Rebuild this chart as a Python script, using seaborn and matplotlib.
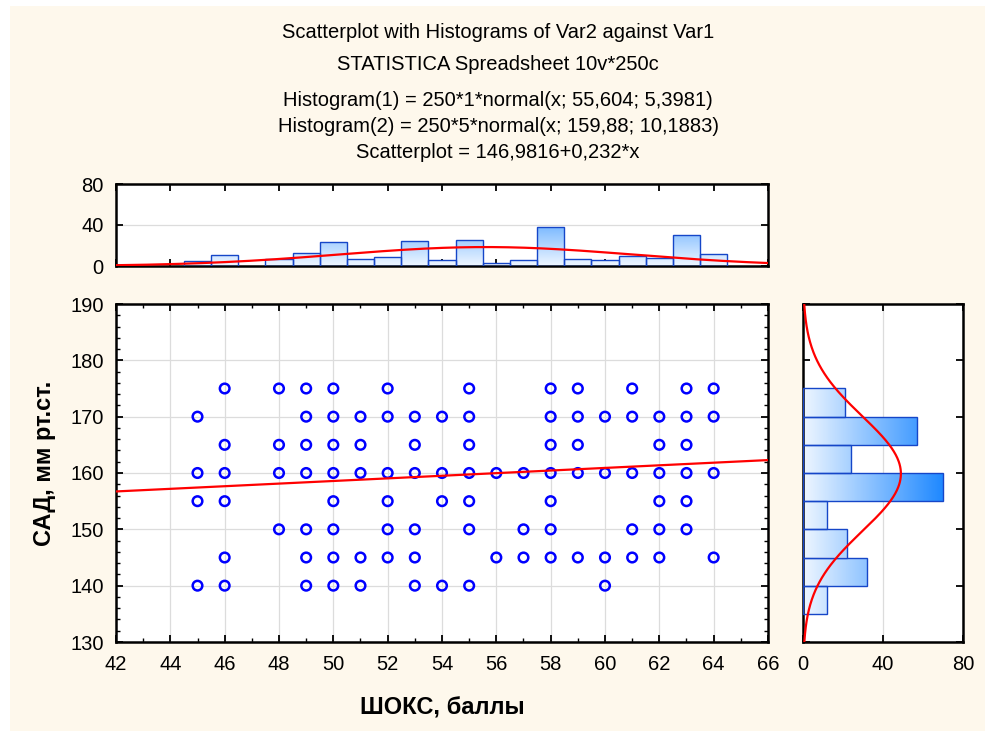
import numpy as np
import pandas as pd
import matplotlib
matplotlib.use("Agg")
import matplotlib.pyplot as plt
import seaborn as sns
from matplotlib.colors import LinearSegmentedColormap, Normalize
from matplotlib.ticker import MultipleLocator
from matplotlib.patches import Rectangle

# ---------------- data ----------------
# scatter: distinct (SHOKS, SAD) points, grouped by SHOKS value
points_by_x = {
    45: [170, 160, 155, 140],
    46: [175, 165, 160, 155, 145, 140],
    48: [175, 165, 160, 150],
    49: [175, 170, 165, 160, 150, 145, 140],
    50: [175, 170, 165, 160, 155, 150, 145, 140],
    51: [170, 165, 160, 145, 140],
    52: [175, 170, 160, 155, 150, 145],
    53: [170, 165, 160, 150, 145, 140],
    54: [170, 160, 155, 140],
    55: [175, 170, 165, 160, 155, 150, 140],
    56: [160, 145],
    57: [160, 150, 145],
    58: [175, 170, 165, 160, 155, 150, 145],
    59: [175, 170, 165, 160, 145],
    60: [170, 160, 145, 140],
    61: [175, 170, 160, 150, 145],
    62: [170, 165, 160, 155, 150, 145],
    63: [175, 170, 165, 160, 155, 150],
    64: [175, 170, 160, 145],
}
shoks = [x for x, ys in points_by_x.items() for _ in ys]
sad = [y for ys in points_by_x.values() for y in ys]

# histogram 1 (SHOKS), bins of width 1 centred on integers
hist1_centers = list(range(45, 65))
hist1_counts = [5, 11, 0, 7, 13, 23, 7, 9, 24, 6, 25, 3, 6, 38, 7, 6, 10, 8, 30, 12]
hist1_edges = list(np.arange(44.5, 65.0, 1.0))

# histogram 2 (SAD), bins of width 5
hist2_centers = [137.5, 142.5, 147.5, 152.5, 157.5, 162.5, 167.5, 172.5]
hist2_counts = [12, 32, 22, 12, 70, 24, 57, 21]
hist2_edges = [135, 140, 145, 150, 155, 160, 165, 170, 175]

# fitted parameters (from chart title)
N = 250
mu1, sd1, bw1 = 55.604, 5.3981, 1
mu2, sd2, bw2 = 159.88, 10.1883, 5
intercept, slope = 146.9816, 0.232

title_lines = [
    "Scatterplot with Histograms of Var2 against Var1",
    "STATISTICA Spreadsheet 10v*250c",
    "Histogram(1) = 250*1*normal(x; 55,604; 5,3981)",
    "Histogram(2) = 250*5*normal(x; 159,88; 10,1883)",
    "Scatterplot = 146,9816+0,232*x",
]
xlabel = "ШОКС, баллы"
ylabel = "САД, мм рт.ст."

# ---------------- style ----------------
sns.set_style("white")
plt.rcParams["font.family"] = ["Liberation Sans", "DejaVu Sans"]
plt.rcParams["text.color"] = "black"

W, H = 985, 731
BG = "#FEF8EC"
fig = plt.figure(figsize=(W / 100, H / 100), dpi=100)
fig.patch.set_facecolor("white")
fig.patches.append(Rectangle((10 / W, 0), 1 - 10 / W, 1 - 6 / H, transform=fig.transFigure,
                             facecolor=BG, edgecolor="none", zorder=-10))

def fx(px):
    return px / W

def fy(py):
    return 1 - py / H

ax = fig.add_axes([fx(116), fy(642), fx(768) - fx(116), fy(304) - fy(642)])
axt = fig.add_axes([fx(116), fy(266), fx(768) - fx(116), fy(184) - fy(266)])
axr = fig.add_axes([fx(803), fy(642), fx(963) - fx(803), fy(304) - fy(642)])

cmap = LinearSegmentedColormap.from_list("g", ["#EEF6FF", "#1A86FF"])
norm = Normalize(0, 72)
EDGE = "#1546C8"

def style_axes(a):
    a.set_facecolor("white")
    for s in a.spines.values():
        s.set_visible(True)
        s.set_color("black")
        s.set_linewidth(1.8)
    a.tick_params(which="both", direction="in", top=True, right=True, bottom=True, left=True,
                  colors="black", labelsize=14.5, pad=9)
    a.tick_params(which="major", length=5, width=1.3)
    a.tick_params(which="minor", length=3, width=1.0)
    a.set_xlabel("")
    a.set_ylabel("")

# ---------------- main scatter ----------------
df = pd.DataFrame({"x": shoks, "y": sad})
sns.scatterplot(data=df, x="x", y="y", ax=ax, marker="o", s=48,
                facecolor="none", edgecolor="#0000FF", linewidth=1.8, zorder=3)
xx = np.array([42, 66])
ax.plot(xx, intercept + slope * xx, color="#FF0000", lw=1.6, zorder=4)
ax.set_xlim(42, 66)
ax.set_ylim(130, 190)
ax.xaxis.set_major_locator(MultipleLocator(2))
ax.xaxis.set_minor_locator(MultipleLocator(1))
ax.yaxis.set_major_locator(MultipleLocator(10))
ax.yaxis.set_minor_locator(MultipleLocator(2))
style_axes(ax)
ax.grid(True, which="major", color="#DCDCDC", lw=0.9)
ax.set_axisbelow(True)

# ---------------- top histogram ----------------
sns.histplot(x=hist1_centers, weights=hist1_counts, bins=hist1_edges, ax=axt,
             stat="count", element="bars", fill=True)
for p in list(axt.patches):
    h = p.get_height()
    p.set_facecolor("none")
    p.set_edgecolor(EDGE if h > 0 else "none")
    p.set_linewidth(1.0)
    p.set_alpha(1)
    p.set_zorder(3)
    if h > 0:
        x0, w = p.get_x(), p.get_width()
        grad = np.linspace(0, h, 100).reshape(-1, 1)
        im = axt.imshow(grad, extent=[x0, x0 + w, 0, h], origin="lower", cmap=cmap, norm=norm,
                        aspect="auto", zorder=2, interpolation="bilinear")
        im.set_clip_path(p)
gx = np.linspace(42, 66, 400)
axt.plot(gx, N * bw1 * np.exp(-0.5 * ((gx - mu1) / sd1) ** 2) / (sd1 * np.sqrt(2 * np.pi)),
         color="#FF0000", lw=1.6, zorder=4)
axt.set_xlim(42, 66)
axt.set_ylim(0, 80)
axt.set_yticks([0, 40, 80])
axt.xaxis.set_major_locator(MultipleLocator(2))
style_axes(axt)
axt.tick_params(axis="x", labelbottom=False)
axt.grid(True, axis="y", color="#DCDCDC", lw=0.9)
axt.set_axisbelow(True)

# ---------------- right histogram ----------------
sns.histplot(y=hist2_centers, weights=hist2_counts, bins=hist2_edges, ax=axr,
             stat="count", element="bars", fill=True)
for p in list(axr.patches):
    w = p.get_width()
    p.set_facecolor("none")
    p.set_edgecolor(EDGE if w > 0 else "none")
    p.set_linewidth(1.0)
    p.set_alpha(1)
    p.set_zorder(3)
    if w > 0:
        y0, hh = p.get_y(), p.get_height()
        grad = np.linspace(0, w, 100).reshape(1, -1)
        im = axr.imshow(grad, extent=[0, w, y0, y0 + hh], origin="lower", cmap=cmap, norm=norm,
                        aspect="auto", zorder=2, interpolation="bilinear")
        im.set_clip_path(p)
gy = np.linspace(130, 190, 400)
axr.plot(N * bw2 * np.exp(-0.5 * ((gy - mu2) / sd2) ** 2) / (sd2 * np.sqrt(2 * np.pi)), gy,
         color="#FF0000", lw=1.6, zorder=4)
axr.set_xlim(0, 80)
axr.set_ylim(130, 190)
axr.set_xticks([0, 40, 80])
axr.yaxis.set_major_locator(MultipleLocator(10))
style_axes(axr)
axr.tick_params(axis="y", labelleft=False)
axr.grid(True, axis="x", color="#DCDCDC", lw=0.9)
axr.set_axisbelow(True)

# ---------------- texts ----------------
for txt, py in zip(title_lines, [33, 65, 100, 126, 153]):
    fig.text(fx(498), fy(py), txt, ha="center", va="center", fontsize=14.5, color="black")
fig.text(fx(442), fy(708), xlabel, ha="center", va="center", fontsize=17, fontweight="bold",
         color="black")
fig.text(fx(45), fy(463), ylabel, ha="center", va="center", rotation=90, fontsize=17,
         fontweight="bold", color="black")

fig.savefig("out.png", dpi=100, facecolor=fig.get_facecolor())
